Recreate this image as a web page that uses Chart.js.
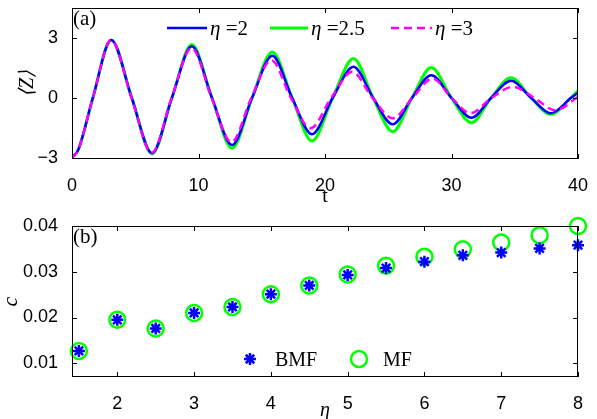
<!DOCTYPE html>
<html>
<head>
<meta charset="utf-8">
<script src="https://cdn.jsdelivr.net/npm/chart.js@4.4.0/dist/chart.umd.min.js"></script>
<style>
  html, body { margin: 0; padding: 0; background: #fff; overflow: hidden; }
  #wrap { position: relative; width: 597px; height: 419px; }
  canvas { position: absolute; left: 0; }
  #zChart { top: 0; }
  #cChart { top: 205px; }
</style>
</head>
<body>
<div id="wrap">
  <canvas id="zChart" width="597" height="215"></canvas>
  <canvas id="cChart" width="597" height="220"></canvas>
</div>
<script>
// panel (a): <Z>(t), extrema and zero crossings
const tEta2 = [0, 0.5, 1.65, 3.1, 4.72, 6.33, 7.9, 9.47, 11.06, 12.65, 14.24, 15.83, 17.4, 18.97,
  20.61, 22.25, 23.8, 25.35, 26.88, 28.4, 29.99, 31.58, 33.14, 34.7, 36.28, 37.85, 39.45, 40];
const zEta2 = [-3, -2.6, 0, 2.9, 0, -2.78, 0, 2.58, 0, -2.37, 0, 2.1, 0, -1.83,
  0, 1.55, 0, -1.33, 0, 1.13, 0, -1.0, 0, 0.85, 0, -0.78, 0, 0.25];
const tEta25 = tEta2;
const zEta25 = [-3, -2.6, 0, 2.9, 0, -2.8, 0, 2.67, 0, -2.53, 0, 2.3, 0, -2.17,
  0, 1.97, 0, -1.7, 0, 1.52, 0, -1.25, 0, 1.0, 0, -0.83, 0, 0.35];
const tEta3 = [0, 0.5, 1.65, 3.1, 4.7, 6.3, 7.88, 9.45, 11.03, 12.6, 14.18, 15.75, 17.3, 18.85,
  20.5, 22.15, 23.75, 25.35, 26.93, 28.5, 30.0, 31.5, 33.18, 34.85, 36.53, 38.2, 39.9, 40];
const zEta3 = [-3, -2.6, 0, 2.9, 0, -2.76, 0, 2.5, 0, -2.23, 0, 1.88, 0, -1.53,
  0, 1.3, 0, -1.03, 0, 0.97, 0, -0.78, 0, 0.55, 0, -0.62, 0, 0.05];
const tTicks = [0, 10, 20, 30, 40];
const zTicks = [-3, 0, 3];

// panel (b): c versus eta
const etaVals = [1.5, 2, 2.5, 3, 3.5, 4, 4.5, 5, 5.5, 6, 6.5, 7, 7.5, 8];
const cBMF = [0.0127, 0.0195, 0.0176, 0.0210, 0.0223, 0.0251, 0.0270, 0.0293, 0.0308, 0.0322, 0.0336, 0.0342, 0.0351, 0.0358];
const cMF  = [0.0127, 0.0195, 0.0176, 0.0210, 0.0223, 0.0251, 0.0270, 0.0294, 0.0313, 0.0333, 0.0349, 0.0364, 0.0380, 0.0400];
const etaTicks = [2, 3, 4, 5, 6, 7, 8];
const cTicks = [0.01, 0.02, 0.03, 0.04];

const pts = (xs, ys) => xs.map((x, i) => ({ x: x, y: ys[i] }));
const tickFont = { family: '"Liberation Sans", Arial, sans-serif', size: 18 };
const serif = '"Liberation Serif", "Times New Roman", serif';
const minus = v => String(v).replace('-', '\u2212');

// box, inward ticks on all sides, panel letter and legend
const decor = {
  id: 'decor',
  afterDatasetsDraw(chart, args, o) {
    const { ctx, chartArea: a, scales } = chart;
    ctx.save();
    ctx.strokeStyle = '#000';
    ctx.lineWidth = 1;
    ctx.strokeRect(a.left + 0.5, a.top + 0.5, a.right - a.left - 1, a.bottom - a.top - 1);
    ctx.beginPath();
    scales.x.ticks.forEach(t => {
      const px = Math.round(scales.x.getPixelForValue(t.value)) + 0.5;
      ctx.moveTo(px, a.bottom); ctx.lineTo(px, a.bottom - 5);
      ctx.moveTo(px, a.top); ctx.lineTo(px, a.top + 5);
    });
    scales.y.ticks.forEach(t => {
      const py = Math.round(scales.y.getPixelForValue(t.value)) + 0.5;
      ctx.moveTo(a.left, py); ctx.lineTo(a.left + 5, py);
      ctx.moveTo(a.right, py); ctx.lineTo(a.right - 5, py);
    });
    ctx.stroke();

    ctx.fillStyle = '#000';
    ctx.textBaseline = 'alphabetic';
    ctx.font = '21px ' + serif;
    ctx.fillText(o.panel, a.left + 1, a.top + 17);

    o.legend.forEach(item => {
      const ds = chart.data.datasets[item.ds];
      ctx.save();
      if (item.line) {
        ctx.strokeStyle = ds.borderColor;
        ctx.lineWidth = ds.borderWidth;
        ctx.setLineDash(ds.borderDash || []);
        ctx.beginPath();
        ctx.moveTo(item.x, o.y);
        ctx.lineTo(item.x + item.w, o.y);
        ctx.stroke();
      } else {
        ctx.strokeStyle = ds.borderColor;
        ctx.fillStyle = 'transparent';
        ctx.lineWidth = ds.borderWidth;
        Chart.helpers.drawPoint(ctx, { pointStyle: ds.pointStyle, radius: ds.pointRadius, borderWidth: ds.borderWidth, rotation: 0 }, item.x + item.w / 2, o.y);
      }
      ctx.restore();
      let tx = item.x + item.w + item.gap;
      const label = ds.label;
      ctx.fillStyle = '#000';
      if (label.charAt(0) === 'η') {
        ctx.font = 'italic ' + o.size + 'px ' + serif;
        ctx.fillText('η', tx, o.y + o.base);
        tx += ctx.measureText('η').width;
        ctx.font = o.size + 'px ' + serif;
        ctx.fillText(label.slice(1), tx, o.y + o.base);
      } else {
        ctx.font = o.size + 'px ' + serif;
        ctx.fillText(label, tx, o.y + o.base);
      }
    });
    ctx.restore();
  }
};

function axisX(min, max, ticks, title, titleFont, titlePad, height) {
  return {
    type: 'linear', min: min, max: max,
    afterBuildTicks: s => { s.ticks = ticks.map(v => ({ value: v })); },
    afterFit: s => { s.height = height; s.paddingLeft = 0; s.paddingRight = 0; },
    grid: { display: false }, border: { display: false },
    ticks: { font: tickFont, color: '#000', padding: 8, maxRotation: 0, autoSkip: false },
    title: { display: true, text: title, color: '#000', font: titleFont, padding: titlePad }
  };
}
function axisY(min, max, ticks, title, titleFont, titlePad) {
  return {
    min: min, max: max,
    afterBuildTicks: s => { s.ticks = ticks.map(v => ({ value: v })); },
    afterFit: s => { s.width = 72; s.paddingTop = 0; s.paddingBottom = 0; },
    grid: { display: false }, border: { display: false },
    ticks: { font: tickFont, color: '#000', padding: 6, autoSkip: false, callback: minus },
    title: { display: true, text: title, color: '#000', font: titleFont, padding: titlePad }
  };
}

new Chart(document.getElementById('zChart'), {
  type: 'line',
  data: {
    datasets: [
      { label: 'η =3', data: pts(tEta3, zEta3), borderColor: '#ff00ff', borderWidth: 2.5, borderDash: [8, 5] },
      { label: 'η =2', data: pts(tEta2, zEta2), borderColor: '#0000ff', borderWidth: 2.5 },
      { label: 'η =2.5', data: pts(tEta25, zEta25), borderColor: '#00ff00', borderWidth: 3 }
    ]
  },
  options: {
    responsive: false, animation: false, events: [],
    layout: { padding: { top: 8, right: 19, left: 0, bottom: 0 } },
    elements: { point: { radius: 0 }, line: { cubicInterpolationMode: 'monotone', fill: false } },
    scales: {
      x: axisX(0, 40, tTicks, 't', { family: serif, size: 20 }, { top: 0, bottom: 6 }, 56),
      y: axisY(-3.07, 4.5, zTicks, '\u27E8Z\u27E9', { family: serif, size: 20, style: 'italic' }, { top: 16, bottom: 0 })
    },
    plugins: {
      legend: { display: false }, tooltip: { enabled: false },
      decor: {
        panel: '(a)', y: 28, base: 7, size: 21,
        legend: [
          { ds: 1, line: true, x: 167, w: 40, gap: 3 },
          { ds: 2, line: true, x: 270, w: 38, gap: 3 },
          { ds: 0, line: true, x: 391, w: 41, gap: 3 }
        ]
      }
    }
  },
  plugins: [decor]
});

new Chart(document.getElementById('cChart'), {
  type: 'scatter',
  data: {
    datasets: [
      { label: 'BMF', data: pts(etaVals, cBMF), pointStyle: 'star', pointRadius: 6, borderColor: '#0000ff', backgroundColor: '#0000ff', borderWidth: 2.5, clip: false },
      { label: 'MF', data: pts(etaVals, cMF), pointStyle: 'circle', pointRadius: 8, borderColor: '#00ff00', backgroundColor: 'transparent', borderWidth: 2.5, clip: false }
    ]
  },
  options: {
    responsive: false, animation: false, events: [],
    layout: { padding: { top: 21, right: 19, left: 0, bottom: 0 } },
    scales: {
      x: axisX(1.41, 8, etaTicks, 'η', { family: serif, size: 20, style: 'italic' }, { top: 0, bottom: 2 }, 48),
      y: axisY(0.007, 0.04, cTicks, 'c', { family: serif, size: 22, style: 'italic', lineHeight: 1 }, { top: 0, bottom: 0 })
    },
    plugins: {
      legend: { display: false }, tooltip: { enabled: false },
      decor: {
        panel: '(b)', y: 154, base: 7, size: 20,
        legend: [
          { ds: 0, line: false, x: 243, w: 14, gap: 18 },
          { ds: 1, line: false, x: 351, w: 16, gap: 16 }
        ]
      }
    }
  },
  plugins: [decor]
});
</script>
</body>
</html>
